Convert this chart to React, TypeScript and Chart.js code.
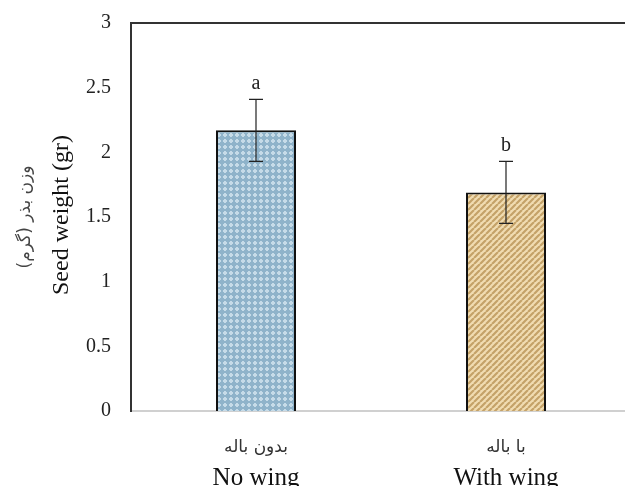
import React, { useEffect, useRef } from "react";
import { Chart, registerables } from "chart.js";

Chart.register(...registerables);

const categoriesFa = ["بدون باله", "با باله"];
const categoriesEn = ["No wing", "With wing"];
const meanValues = [2.17, 1.69];
const errorValues = [0.24, 0.24];
const groupLetters = ["a", "b"];
const yTicks = [0, 0.5, 1, 1.5, 2, 2.5, 3];
const yTitleFa = "وزن بذر (گرم)";
const yTitleEn = "Seed weight (gr)";

function makeBluePattern(): CanvasPattern | string {
  const c = document.createElement("canvas");
  c.width = 6;
  c.height = 6;
  const g = c.getContext("2d");
  if (!g) return "#93b6cc";
  g.fillStyle = "#8fb3ca";
  g.fillRect(0, 0, 6, 6);
  g.fillStyle = "#c6dbe8";
  g.fillRect(2, 1, 2, 1);
  g.fillRect(1, 2, 4, 2);
  g.fillRect(2, 4, 2, 1);
  const p = g.createPattern(c, "repeat");
  return p || "#93b6cc";
}

function makeTanPattern(): CanvasPattern | string {
  const c = document.createElement("canvas");
  const s = 6;
  c.width = s;
  c.height = s;
  const g = c.getContext("2d");
  if (!g) return "#d9b77f";
  g.fillStyle = "#f0dcb2";
  g.fillRect(0, 0, s, s);
  g.strokeStyle = "#c4a268";
  g.lineWidth = 2.2;
  g.beginPath();
  for (let k = -1; k <= 1; k++) {
    g.moveTo(k * s, s);
    g.lineTo(k * s + s, 0);
  }
  g.stroke();
  const p = g.createPattern(c, "repeat");
  return p || "#d9b77f";
}

const decorPlugin = {
  id: "decor",
  afterDatasetsDraw(chart: any) {
    const ctx = chart.ctx;
    const area = chart.chartArea;
    const x = chart.scales.x;
    const y = chart.scales.y;
    ctx.save();
    ctx.strokeStyle = "#333";
    ctx.lineWidth = 2;
    ctx.beginPath();
    ctx.moveTo(area.left - 1, area.top);
    ctx.lineTo(area.right, area.top);
    ctx.stroke();
    ctx.strokeStyle = "#222";
    ctx.lineWidth = 1.2;
    meanValues.forEach((v, i) => {
      const cx = x.getPixelForValue(i);
      const yt = y.getPixelForValue(v + errorValues[i]);
      const yb = y.getPixelForValue(v - errorValues[i]);
      ctx.beginPath();
      ctx.moveTo(cx, yt);
      ctx.lineTo(cx, yb);
      ctx.moveTo(cx - 7, yt);
      ctx.lineTo(cx + 7, yt);
      ctx.moveTo(cx - 7, yb);
      ctx.lineTo(cx + 7, yb);
      ctx.stroke();
      ctx.fillStyle = "#222";
      ctx.font = "20px 'Liberation Serif', serif";
      ctx.textAlign = "center";
      ctx.textBaseline = "alphabetic";
      ctx.fillText(groupLetters[i], cx, yt - 10);
    });
    categoriesFa.forEach((t, i) => {
      const cx = x.getPixelForValue(i);
      ctx.fillStyle = "#333";
      ctx.font = "17px 'DejaVu Sans', sans-serif";
      ctx.textAlign = "center";
      ctx.fillText(t, cx, area.bottom + 41);
      ctx.fillStyle = "#111";
      ctx.font = "25px 'Liberation Serif', serif";
      ctx.fillText(categoriesEn[i], cx, area.bottom + 74);
    });
    const midY = 215;
    ctx.save();
    ctx.translate(68, midY);
    ctx.rotate(-Math.PI / 2);
    ctx.fillStyle = "#111";
    ctx.font = "24px 'Liberation Serif', serif";
    ctx.textAlign = "center";
    ctx.fillText(yTitleEn, 0, 0);
    ctx.restore();
    ctx.save();
    ctx.translate(30, midY + 2);
    ctx.rotate(-Math.PI / 2);
    ctx.fillStyle = "#444";
    ctx.font = "17px 'DejaVu Sans', sans-serif";
    ctx.textAlign = "center";
    ctx.fillText(yTitleFa, 0, 0);
    ctx.restore();
    ctx.restore();
  },
};

export default function App() {
  const ref = useRef<HTMLCanvasElement | null>(null);
  useEffect(() => {
    if (!ref.current) return;
    const chart = new Chart(ref.current, {
      type: "bar",
      data: {
        labels: categoriesEn,
        datasets: [
          {
            data: meanValues,
            backgroundColor: [makeBluePattern(), makeTanPattern()] as any,
            borderColor: "#111",
            borderWidth: 2,
            borderSkipped: "bottom",
            categoryPercentage: 1,
            barPercentage: 0.32,
          },
        ],
      },
      options: {
        animation: false,
        responsive: false,
        maintainAspectRatio: false,
        layout: { padding: { left: 0, right: 0, top: 23, bottom: 75 } },
        plugins: { legend: { display: false }, tooltip: { enabled: false } },
        scales: {
          x: {
            grid: { display: false, drawTicks: false },
            border: { color: "#d0d0d0", width: 2 },
            ticks: { display: false },
          },
          y: {
            min: 0,
            max: 3,
            afterBuildTicks: (axis: any) => {
              axis.ticks = yTicks.map((v) => ({ value: v }));
            },
            grid: { display: false, drawTicks: false },
            border: { color: "#333", width: 2 },
            afterFit: (axis: any) => {
              axis.width = 131;
              axis.paddingTop = 0;
              axis.paddingBottom = 0;
            },
            ticks: {
              padding: 20,
              color: "#222",
              font: { family: "'Liberation Serif', serif", size: 20 },
              callback: (v: any) => String(v),
            },
          },
        },
      },
      plugins: [decorPlugin],
    });
    return () => chart.destroy();
  }, []);
  return (
    <div style={{ position: "fixed", left: 0, top: 0, width: 625, height: 486, overflow: "hidden", background: "#fff" }}>
      <canvas ref={ref} width={631} height={486} style={{ display: "block" }} />
    </div>
  );
}
